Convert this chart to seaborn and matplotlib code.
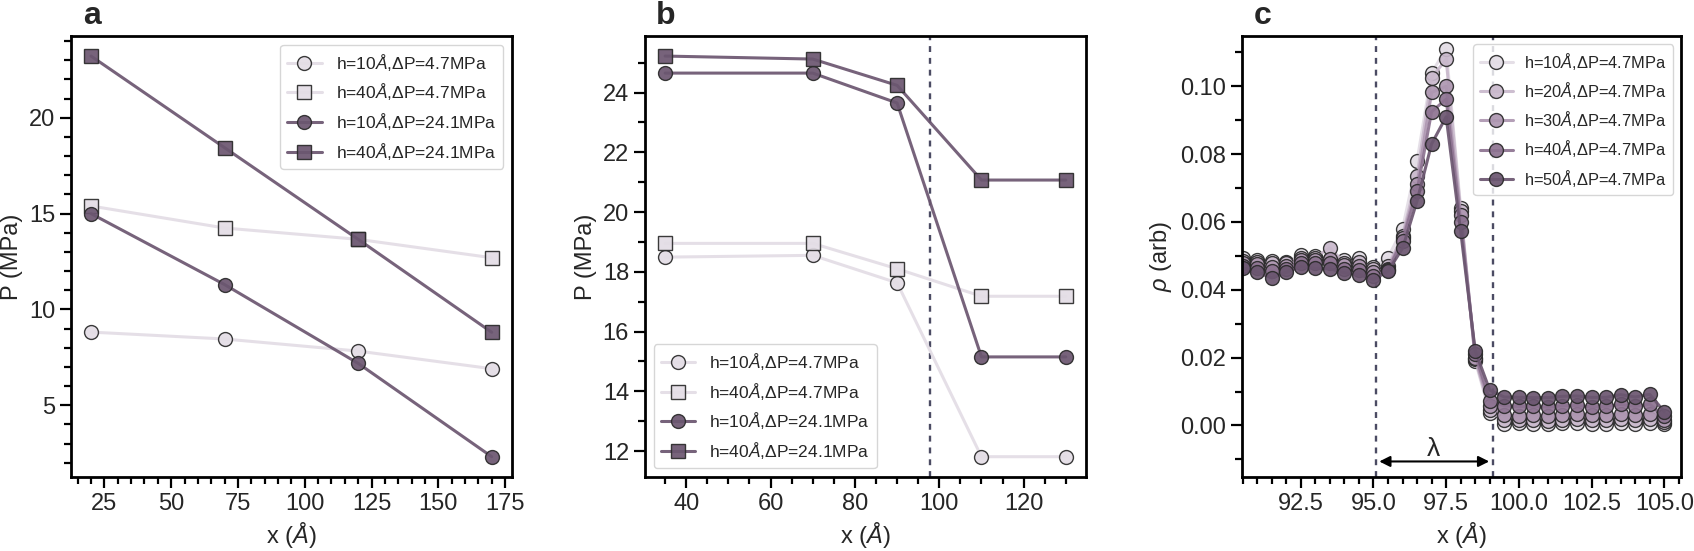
import matplotlib
matplotlib.use("Agg")
import matplotlib.pyplot as plt
from matplotlib.ticker import MultipleLocator
import seaborn as sns

# ---- panel a: pressure vs position
x_a = [20, 70, 120, 170]
a_h10_low = [8.82, 8.46, 7.83, 6.91]
a_h40_low = [15.40, 14.25, 13.66, 12.70]
a_h10_high = [15.00, 11.30, 7.19, 2.32]
a_h40_high = [23.22, 18.44, 13.66, 8.81]

# ---- panel b
x_b = [35, 70, 90, 110, 130]
b_h10_low = [18.49, 18.55, 17.63, 11.81, 11.81]
b_h40_low = [18.95, 18.95, 18.10, 17.18, 17.18]
b_h10_high = [24.65, 24.65, 23.65, 15.15, 15.15]
b_h40_high = [25.22, 25.12, 24.24, 21.07, 21.07]
b_cut = 97.7

# ---- panel c: density profiles
x_c = [90.5, 91.0, 91.5, 92.0, 92.5, 93.0, 93.5, 94.0, 94.5, 95.0,
       95.5, 96.0, 96.5, 97.0, 97.5, 98.0, 98.5, 99.0, 99.5, 100.0,
       100.5, 101.0, 101.5, 102.0, 102.5, 103.0, 103.5, 104.0, 104.5, 105.0]
rho_h10 = [0.0493, 0.0488, 0.0486, 0.0483, 0.0502, 0.0500, 0.0490, 0.0488, 0.0493, 0.0468,
           0.0495, 0.0580, 0.0780, 0.1040, 0.1110, 0.0640, 0.0190, 0.0037, 0.0004, 0.0006,
           0.0005, 0.0004, 0.0006, 0.0006, 0.0004, 0.0005, 0.0006, 0.0004, 0.0006, 0.0003]
rho_h20 = [0.0485, 0.0482, 0.0478, 0.0478, 0.0495, 0.0495, 0.0524, 0.0480, 0.0483, 0.0460,
           0.0470, 0.0560, 0.0735, 0.1025, 0.1080, 0.0632, 0.0195, 0.0045, 0.0015, 0.0017,
           0.0015, 0.0014, 0.0017, 0.0018, 0.0015, 0.0015, 0.0019, 0.0015, 0.0019, 0.0010]
rho_h30 = [0.0478, 0.0475, 0.0468, 0.0470, 0.0488, 0.0488, 0.0490, 0.0472, 0.0470, 0.0452,
           0.0462, 0.0552, 0.0712, 0.0982, 0.1000, 0.0620, 0.0200, 0.0058, 0.0030, 0.0029,
           0.0031, 0.0028, 0.0032, 0.0033, 0.0030, 0.0030, 0.0034, 0.0030, 0.0035, 0.0017]
rho_h40 = [0.0470, 0.0465, 0.0455, 0.0462, 0.0480, 0.0478, 0.0480, 0.0462, 0.0458, 0.0440,
           0.0458, 0.0545, 0.0692, 0.0925, 0.0962, 0.0600, 0.0210, 0.0072, 0.0058, 0.0056,
           0.0056, 0.0054, 0.0058, 0.0059, 0.0055, 0.0056, 0.0062, 0.0056, 0.0063, 0.0027]
rho_h50 = [0.0465, 0.0452, 0.0435, 0.0452, 0.0468, 0.0463, 0.0462, 0.0450, 0.0445, 0.0430,
           0.0455, 0.0522, 0.0662, 0.0830, 0.0910, 0.0572, 0.0220, 0.0104, 0.0084, 0.0083,
           0.0082, 0.0082, 0.0086, 0.0087, 0.0083, 0.0083, 0.0091, 0.0084, 0.0092, 0.0041]
c_heights = [10, 20, 30, 40, 50]
c_edges = [95.1, 99.1]

light = "#e3dde5"
dark = "#6b5670"
c_colors = ["#e3dde5", "#c9b9cc", "#ae97b1", "#8d7391", "#6b5670"]

sns.set_theme(style="ticks")
plt.rcParams["font.family"] = ["Liberation Sans", "DejaVu Sans"]
plt.rcParams["mathtext.fontset"] = "custom"
plt.rcParams["mathtext.rm"] = "Liberation Sans"
plt.rcParams["mathtext.it"] = "Liberation Sans:italic"


def lab(h, dp):
    return f"h={h}$\\mathit{{Å}}$,ΔP={dp}MPa"


def draw(ax, x, y, color, marker, label):
    sns.lineplot(x=x, y=y, ax=ax, color=color, marker=marker, markersize=10,
                 markeredgecolor="#2a2a2a", markeredgewidth=1.0, linewidth=2.2,
                 alpha=0.92, label=label)


def style(ax, xmaj, xmin, ymaj, ymin):
    ax.xaxis.set_major_locator(MultipleLocator(xmaj))
    ax.xaxis.set_minor_locator(MultipleLocator(xmin))
    ax.yaxis.set_major_locator(MultipleLocator(ymaj))
    ax.yaxis.set_minor_locator(MultipleLocator(ymin))
    ax.tick_params(which="major", length=8, width=1.6, labelsize=17, color="black")
    ax.tick_params(which="minor", length=5, width=1.6, color="black")
    for s in ax.spines.values():
        s.set_linewidth(2.0)
        s.set_color("black")
    ax.set_xlabel("x ($\\mathit{Å}$)", fontsize=17)


fig = plt.figure(figsize=(16.94, 5.51), dpi=100)
ax_a = fig.add_axes([0.0419, 0.1348, 0.2602, 0.7998])
ax_b = fig.add_axes([0.3808, 0.1348, 0.2602, 0.7998])
ax_c = fig.add_axes([0.7330, 0.1348, 0.2594, 0.7998])

# a
draw(ax_a, x_a, a_h10_low, light, "o", lab(10, 4.7))
draw(ax_a, x_a, a_h40_low, light, "s", lab(40, 4.7))
draw(ax_a, x_a, a_h10_high, dark, "o", lab(10, 24.1))
draw(ax_a, x_a, a_h40_high, dark, "s", lab(40, 24.1))
style(ax_a, 25, 5, 5, 1)
ax_a.set_ylabel("P (MPa)", fontsize=17)
ax_a.legend(loc="upper right", fontsize=12.5)

# b
draw(ax_b, x_b, b_h10_low, light, "o", lab(10, 4.7))
draw(ax_b, x_b, b_h40_low, light, "s", lab(40, 4.7))
draw(ax_b, x_b, b_h10_high, dark, "o", lab(10, 24.1))
draw(ax_b, x_b, b_h40_high, dark, "s", lab(40, 24.1))
style(ax_b, 20, 5, 2, 1)
ax_b.set_ylabel("P (MPa)", fontsize=17)
ax_b.legend(loc="lower left", fontsize=12.5)
ax_b.axvline(b_cut, color="#4b4b63", lw=1.7, ls=(0, (2.5, 2.5)), zorder=0)

# c
for h, rho, col in zip(c_heights, [rho_h10, rho_h20, rho_h30, rho_h40, rho_h50], c_colors):
    draw(ax_c, x_c, rho, col, "o", lab(h, 4.7))
style(ax_c, 2.5, 0.5, 0.02, 0.01)
ax_c.set_xlim(90.47, 105.58)
ax_c.set_ylim(-0.0151, 0.1148)
ax_c.set_ylabel("$\\rho$ (arb)", fontsize=17)
ax_c.legend(loc="upper right", fontsize=11.8, handletextpad=0.7)
for xe in c_edges:
    ax_c.axvline(xe, color="#4b4b63", lw=1.7, ls=(0, (2.5, 2.5)), zorder=0)
ax_c.annotate("", xy=(c_edges[1] - 0.12, -0.0106), xytext=(c_edges[0] + 0.1, -0.0106),
              arrowprops=dict(arrowstyle="<|-|>", color="black", lw=1.5,
                              shrinkA=0, shrinkB=0, mutation_scale=16))
ax_c.text(sum(c_edges) / 2 - 0.05, -0.0068, "λ", ha="center", va="center", fontsize=19)

for ax, letter in zip([ax_a, ax_b, ax_c], "abc"):
    ax.text(0.047, 1.045, letter, transform=ax.transAxes, fontsize=23,
            fontweight="bold", ha="center", va="center")

fig.savefig("out.png", dpi=100)
